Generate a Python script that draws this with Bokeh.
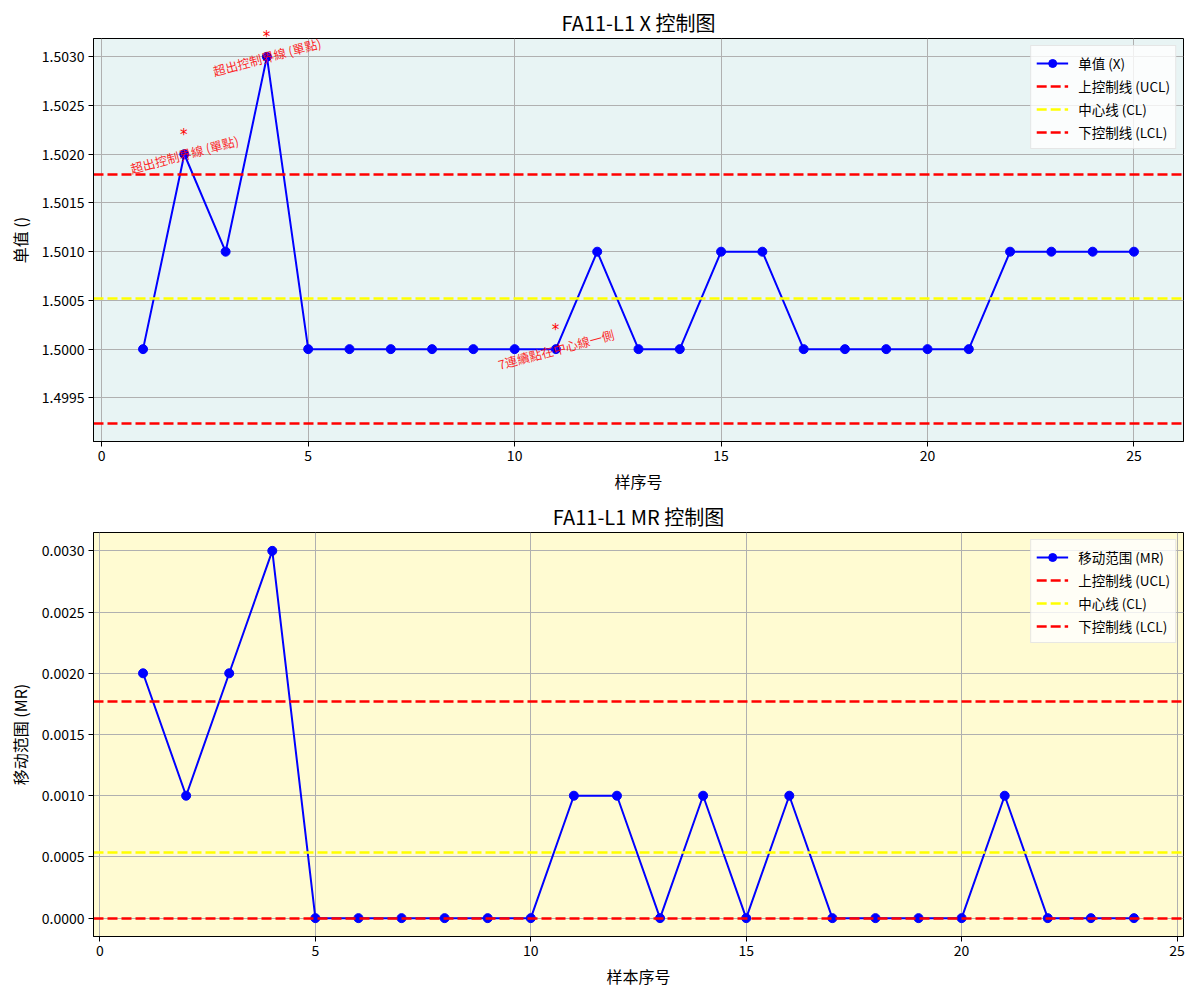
import math
from bokeh.plotting import figure
from bokeh.layouts import column
from bokeh.models import Range1d, FixedTicker, NumeralTickFormatter, ColumnDataSource, LabelSet
from bokeh.models import HTMLLabelSet
from bokeh.core.properties import value
from bokeh.embed import file_html
from bokeh.resources import INLINE

# ---------------- data ----------------
samples = list(range(1, 26))
x_values = [1.5000, 1.5020, 1.5010, 1.5030, 1.5000, 1.5000, 1.5000, 1.5000,
            1.5000, 1.5000, 1.5000, 1.5010, 1.5000, 1.5000, 1.5010, 1.5010,
            1.5000, 1.5000, 1.5000, 1.5000, 1.5000, 1.5010, 1.5010, 1.5010,
            1.5010]
x_ucl = 1.50179
x_cl = 1.50052
x_lcl = 1.49924

mr_samples = list(range(1, 25))
mr_values = [0.0020, 0.0010, 0.0020, 0.0030, 0.0, 0.0, 0.0, 0.0, 0.0, 0.0,
             0.0010, 0.0010, 0.0, 0.0010, 0.0, 0.0010, 0.0, 0.0, 0.0, 0.0,
             0.0010, 0.0, 0.0, 0.0]
mr_ucl = 0.00177
mr_cl = 0.00054
mr_lcl = 0.0

anno_samples = [2, 4, 11]
anno_texts = ["超出控制界線 (單點)", "超出控制界線 (單點)", "7連續點在中心線一側"]

x_ticks = [0, 5, 10, 15, 20, 25]
x_yticks = [1.4995, 1.5000, 1.5005, 1.5010, 1.5015, 1.5020, 1.5025, 1.5030]
mr_yticks = [0.0000, 0.0005, 0.0010, 0.0015, 0.0020, 0.0025, 0.0030]

FONT = "Noto Sans CJK SC"


def style(p, xlabel, ylabel, yticks):
    p.title.text_font = FONT
    p.title.text_font_size = "20px"
    p.title.text_font_style = "normal"
    p.title.text_color = "black"
    p.title.align = "center"
    p.title.offset = 0
    p.title.standoff = 3
    p.outline_line_color = "black"
    p.outline_line_width = 1
    p.outline_line_alpha = 1
    for ax in (p.xaxis, p.yaxis):
        ax.axis_label_text_font = FONT
        ax.axis_label_text_font_size = "16px"
        ax.axis_label_text_font_style = "normal"
        ax.axis_label_text_color = "black"
        ax.major_label_text_font = FONT
        ax.major_label_text_font_size = "14px"
        ax.major_label_text_color = "black"
        ax.major_tick_out = 5
        ax.major_tick_in = 0
        ax.minor_tick_out = 0
        ax.minor_tick_in = 0
        ax.axis_line_color = "black"
        ax.major_tick_line_color = "black"
    p.xaxis.axis_label = xlabel
    p.yaxis.axis_label = ylabel
    p.xaxis.ticker = FixedTicker(ticks=x_ticks)
    p.yaxis.ticker = FixedTicker(ticks=yticks)
    p.yaxis.formatter = NumeralTickFormatter(format="0.0000")
    p.xaxis.axis_label_standoff = 5
    p.yaxis.axis_label_standoff = 7
    p.xaxis.major_label_standoff = 3
    p.yaxis.major_label_standoff = 4
    p.xgrid.grid_line_color = "#b0b0b0"
    p.ygrid.grid_line_color = "#b0b0b0"
    p.xgrid.grid_line_width = 1
    p.ygrid.grid_line_width = 1
    p.xgrid.ticker = FixedTicker(ticks=x_ticks)
    p.ygrid.ticker = FixedTicker(ticks=yticks)


def legendstyle(p):
    lg = p.legend[0]
    lg.location = "top_right"
    lg.margin = 7
    lg.padding = 5
    lg.spacing = 0
    lg.label_height = 23
    lg.glyph_height = 20
    lg.glyph_width = 32
    lg.label_text_font = FONT
    lg.label_text_font_size = "13.5px"
    lg.label_text_color = "black"
    lg.label_standoff = 10
    lg.border_line_color = "#d0d0d0"
    lg.border_line_width = 1
    lg.background_fill_color = "white"
    lg.background_fill_alpha = 0.8


# ---------------- X chart ----------------
xr_pad = 0.05 * (samples[-1] - samples[0])
x_lo = min(min(x_values), x_lcl)
x_hi = max(max(x_values), x_ucl)
y_pad = 0.05 * (x_hi - x_lo)

p1 = figure(width=1200, height=495, output_backend="svg", toolbar_location=None,
            title="FA11-L1 X 控制图",
            x_range=Range1d(samples[0] - xr_pad, samples[-1] + xr_pad),
            y_range=Range1d(x_lo - y_pad, x_hi + y_pad),
            min_border_left=93, min_border_right=17, min_border_top=38,
            min_border_bottom=52)
p1.background_fill_color = "#e8f4f4"
style(p1, "样序号", "单值 ()", x_yticks)

src1 = ColumnDataSource(dict(x=samples, y=x_values))
p1.line("x", "y", source=src1, line_color="blue", line_width=2, legend_label="单值 (X)")
p1.scatter("x", "y", source=src1, size=9, fill_color="blue", line_color="blue",
           legend_label="单值 (X)")
p1.hspan(y=[x_ucl], line_color="red", line_width=2.5, line_dash="10 4",
         legend_label="上控制线 (UCL)")
p1.hspan(y=[x_cl], line_color="yellow", line_width=2.5, line_dash="10 4",
         legend_label="中心线 (CL)")
p1.hspan(y=[x_lcl], line_color="red", line_width=2.5, line_dash="10 4",
         legend_label="下控制线 (LCL)")

anno_y = [x_values[s - 1] for s in anno_samples]
asrc = ColumnDataSource(dict(x=anno_samples, y=anno_y, t=anno_texts,
                             star=["*"] * len(anno_samples)))
p1.add_layout(LabelSet(x="x", y="y", text="t", source=asrc, angle=math.radians(15),
                       text_color="red", text_alpha=0.85, text_font=value(FONT),
                       text_font_size="12.5px", text_align="center",
                       text_baseline="middle"))
p1.add_layout(HTMLLabelSet(x="x", y="y", text="star", source=asrc, text_color="red",
                           text_font=value("DejaVu Sans"), text_font_size="15px",
                           text_align="center", text_baseline="middle", y_offset=19))
legendstyle(p1)

# ---------------- MR chart ----------------
mr_xpad = 0.05 * (mr_samples[-1] - mr_samples[0])
m_lo = min(min(mr_values), mr_lcl)
m_hi = max(max(mr_values), mr_ucl)
m_pad = 0.05 * (m_hi - m_lo)

p2 = figure(width=1200, height=505, output_backend="svg", toolbar_location=None,
            title="FA11-L1 MR 控制图",
            x_range=Range1d(mr_samples[0] - mr_xpad, mr_samples[-1] + mr_xpad),
            y_range=Range1d(m_lo - m_pad, m_hi + m_pad),
            min_border_left=93, min_border_right=17, min_border_top=37,
            min_border_bottom=64)
p2.background_fill_color = "#fffbd2"
style(p2, "样本序号", "移动范围 (MR)", mr_yticks)

src2 = ColumnDataSource(dict(x=mr_samples, y=mr_values))
p2.line("x", "y", source=src2, line_color="blue", line_width=2,
        legend_label="移动范围 (MR)")
p2.scatter("x", "y", source=src2, size=9, fill_color="blue", line_color="blue",
           legend_label="移动范围 (MR)")
p2.hspan(y=[mr_ucl], line_color="red", line_width=2.5, line_dash="10 4",
         legend_label="上控制线 (UCL)")
p2.hspan(y=[mr_cl], line_color="yellow", line_width=2.5, line_dash="10 4",
         legend_label="中心线 (CL)")
p2.hspan(y=[mr_lcl], line_color="red", line_width=2.5, line_dash="10 4",
         legend_label="下控制线 (LCL)")
legendstyle(p2)

layout = column(p1, p2, spacing=0)
open("out.html", "w").write(file_html(layout, INLINE))
